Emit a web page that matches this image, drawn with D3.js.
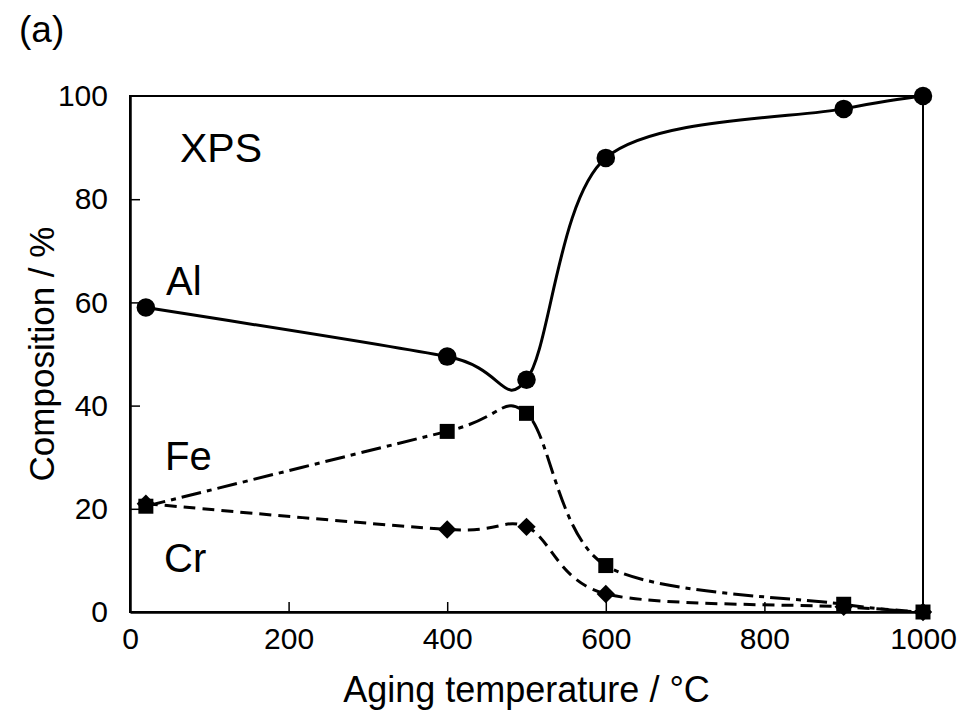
<!DOCTYPE html>
<html>
<head>
  <script src="https://cdn.jsdelivr.net/npm/d3@7"></script>
  <style>
    body { margin: 0; background: #fff; }
    text { font-family: "Liberation Sans", Arial, sans-serif; fill: #000; }
  </style>
</head>
<body>
<div id="viz"></div>
<script>
// aging temperature (°C)
var temps = [20, 400, 500, 600, 900, 1000];
// XPS composition (%)
var al = [59, 49.5, 45, 88, 97.5, 100];
var fe = [20.5, 35, 38.5, 9, 1.5, 0];
var cr = [21, 16, 16.5, 3.5, 1, 0];
var xTicks = [0, 200, 400, 600, 800, 1000];
var yTicks = [0, 20, 40, 60, 80, 100];

var W = 962, H = 720;
var m = {left: 130, right: 39, top: 96, bottom: 108};

var svg = d3.select("#viz").append("svg")
    .attr("width", W)
    .attr("height", H);

var x = d3.scaleLinear().domain([0, 1000]).range([m.left, W - m.right]);
var y = d3.scaleLinear().domain([0, 100]).range([H - m.bottom, m.top]);

// frame (top + right)
svg.append("rect")
    .attr("x", x(0)).attr("y", y(100))
    .attr("width", x(1000) - x(0)).attr("height", y(0) - y(100))
    .attr("fill", "none").attr("stroke", "#000").attr("stroke-width", 2);

var xAxis = svg.append("g")
    .attr("transform", "translate(0," + y(0) + ")")
    .call(d3.axisBottom(x).tickValues(xTicks).tickFormat(d3.format("d"))
      .tickSize(-10).tickSizeOuter(0).tickPadding(16));
var yAxis = svg.append("g")
    .attr("transform", "translate(" + x(0) + ",0)")
    .call(d3.axisLeft(y).tickValues(yTicks).tickSize(-10).tickSizeOuter(0).tickPadding(22));

[xAxis, yAxis].forEach(function(g){
  g.select(".domain").attr("stroke-width", 2.5);
  g.selectAll(".tick line").attr("stroke-width", 1.5);
  g.selectAll("text").style("font-size", "30px")
    .style("font-family", "Liberation Sans, Arial, sans-serif");
});
// corner ticks sit on the frame
xAxis.selectAll(".tick").filter(function(d){ return d === 0 || d === 1000; }).select("line").remove();
yAxis.selectAll(".tick").filter(function(d){ return d === 0 || d === 100; }).select("line").remove();

var line = d3.line().curve(d3.curveCardinal.tension(0.1));

function series(vals, dash, shape, size, rot) {
  var pts = temps.map(function(t, i){ return [x(t), y(vals[i])]; });
  svg.append("path")
      .attr("d", line(pts))
      .attr("fill", "none")
      .attr("stroke", "#000")
      .attr("stroke-width", 3)
      .attr("stroke-dasharray", dash);
  svg.selectAll(null).data(pts).enter().append("path")
      .attr("transform", function(p){ return "translate(" + p[0] + "," + p[1] + ") rotate(" + rot + ")"; })
      .attr("d", d3.symbol().type(shape).size(size))
      .attr("fill", "#000");
}

series(fe, "20,6,5,6", d3.symbolSquare, 225, 0);
series(cr, "12,7", d3.symbolSquare, 169, 45);
series(al, null, d3.symbolCircle, 270, 0);

// labels
function label(txt, lx, ly, fs) {
  svg.append("text").attr("x", lx).attr("y", ly).style("font-size", fs + "px").text(txt);
}
label("XPS", 180, 162, 41);
label("Al", 166, 295, 40);
label("Fe", 165, 470, 40);
label("Cr", 164, 572, 40);
label("(a)", 19, 42, 37);

svg.append("text")
    .attr("x", (x(0) + x(1000)) / 2).attr("y", 702)
    .attr("text-anchor", "middle")
    .style("font-size", "36px")
    .text("Aging temperature / °C");
svg.append("text")
    .attr("transform", "translate(54," + (y(50)) + ") rotate(-90)")
    .attr("text-anchor", "middle")
    .style("font-size", "35px")
    .text("Composition / %");
</script>
</body>
</html>
